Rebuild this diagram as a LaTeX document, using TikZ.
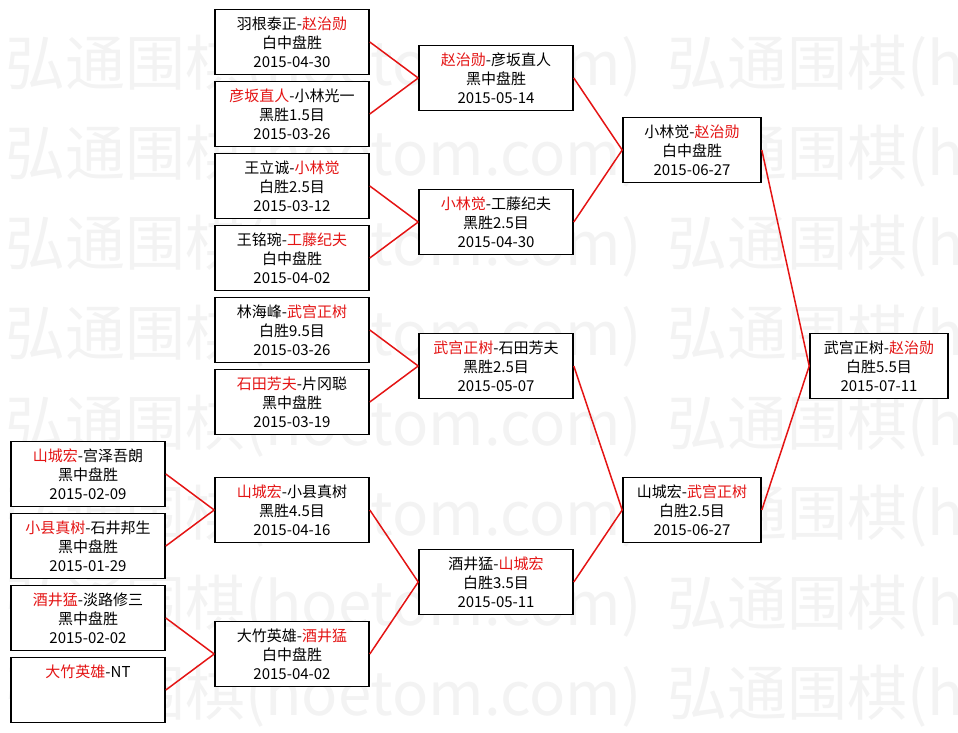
\documentclass[tikz,border=0pt]{standalone}
\usepackage{fontspec}
\setmainfont{Noto Sans CJK SC}
\definecolor{winred}{RGB}{228,20,20}
\definecolor{wmgray}{RGB}{243,243,243}
\newcommand{\wn}[1]{\textcolor{winred}{#1}}
\tikzstyle{game} = [rectangle, draw=black, line width=1.6pt, fill=white, minimum width=154pt, minimum height=65pt, inner sep=0pt, align=center, font=\fontsize{15}{19}\selectfont]
\tikzstyle{gamenarrow} = [game, minimum width=138pt]
\tikzstyle{link} = [draw=winred, line width=1.5pt]
\tikzstyle{watermark} = [anchor=west, inner sep=0pt, text=wmgray, font=\fontsize{60}{60}\selectfont]

\begin{document}
\begin{tikzpicture}[x=1pt, y=-1pt]
	\useasboundingbox (0,0) rectangle (958,733);
	% background watermark
	\begin{scope}
	\clip (0,0) rectangle (958,733);
	\foreach \r in {0,...,7} {
		\node [watermark] (wmA\r) at (5,{66+90*\r}) {弘通围棋(hoetom.com)};
		\node [watermark] (wmB\r) at (667,{66+90*\r}) {弘通围棋(hoetom.com)};
	}
	\end{scope}

	% first column
	\node [game] at (88,474) (a1) {\wn{山城宏}-宫泽吾朗\\黑中盘胜\\2015-02-09};
	\node [game] at (88,546) (a2) {\wn{小县真树}-石井邦生\\黑中盘胜\\2015-01-29};
	\node [game] at (88,618) (a3) {\wn{酒井猛}-淡路修三\\黑中盘胜\\2015-02-02};
	\node [game] at (88,690) (a4) {\wn{大竹英雄}-NT\\\mbox{}\\\mbox{}};

	% second column
	\node [game] at (292,42) (b1) {羽根泰正-\wn{赵治勋}\\白中盘胜\\2015-04-30};
	\node [game] at (292,114) (b2) {\wn{彦坂直人}-小林光一\\黑胜1.5目\\2015-03-26};
	\node [game] at (292,186) (b3) {王立诚-\wn{小林觉}\\白胜2.5目\\2015-03-12};
	\node [game] at (292,258) (b4) {王铭琬-\wn{工藤纪夫}\\白中盘胜\\2015-04-02};
	\node [game] at (292,330) (b5) {林海峰-\wn{武宫正树}\\白胜9.5目\\2015-03-26};
	\node [game] at (292,402) (b6) {\wn{石田芳夫}-片冈聪\\黑中盘胜\\2015-03-19};
	\node [game] at (292,510) (b7) {\wn{山城宏}-小县真树\\黑胜4.5目\\2015-04-16};
	\node [game] at (292,654) (b8) {大竹英雄-\wn{酒井猛}\\白中盘胜\\2015-04-02};

	% third column
	\node [game] at (496,78) (c1) {\wn{赵治勋}-彦坂直人\\黑中盘胜\\2015-05-14};
	\node [game] at (496,222) (c2) {\wn{小林觉}-工藤纪夫\\黑胜2.5目\\2015-04-30};
	\node [game] at (496,366) (c3) {\wn{武宫正树}-石田芳夫\\黑胜2.5目\\2015-05-07};
	\node [game] at (496,582) (c4) {酒井猛-\wn{山城宏}\\白胜3.5目\\2015-05-11};

	% semifinal and final
	\node [gamenarrow] at (692,150) (d1) {小林觉-\wn{赵治勋}\\白中盘胜\\2015-06-27};
	\node [gamenarrow] at (692,510) (d2) {山城宏-\wn{武宫正树}\\白胜2.5目\\2015-06-27};
	\node [gamenarrow] at (879,366) (final) {武宫正树-\wn{赵治勋}\\白胜5.5目\\2015-07-11};

	\draw [link] (a1.east) -- (b7.west);
	\draw [link] (a2.east) -- (b7.west);
	\draw [link] (a3.east) -- (b8.west);
	\draw [link] (a4.east) -- (b8.west);
	\draw [link] (b1.east) -- (c1.west);
	\draw [link] (b2.east) -- (c1.west);
	\draw [link] (b3.east) -- (c2.west);
	\draw [link] (b4.east) -- (c2.west);
	\draw [link] (b5.east) -- (c3.west);
	\draw [link] (b6.east) -- (c3.west);
	\draw [link] (b7.east) -- (c4.west);
	\draw [link] (b8.east) -- (c4.west);
	\draw [link] (c1.east) -- (d1.west);
	\draw [link] (c2.east) -- (d1.west);
	\draw [link] (c3.east) -- (d2.west);
	\draw [link] (c4.east) -- (d2.west);
	\draw [link] (d1.east) -- (final.west);
	\draw [link] (d2.east) -- (final.west);
\end{tikzpicture}
\end{document}
